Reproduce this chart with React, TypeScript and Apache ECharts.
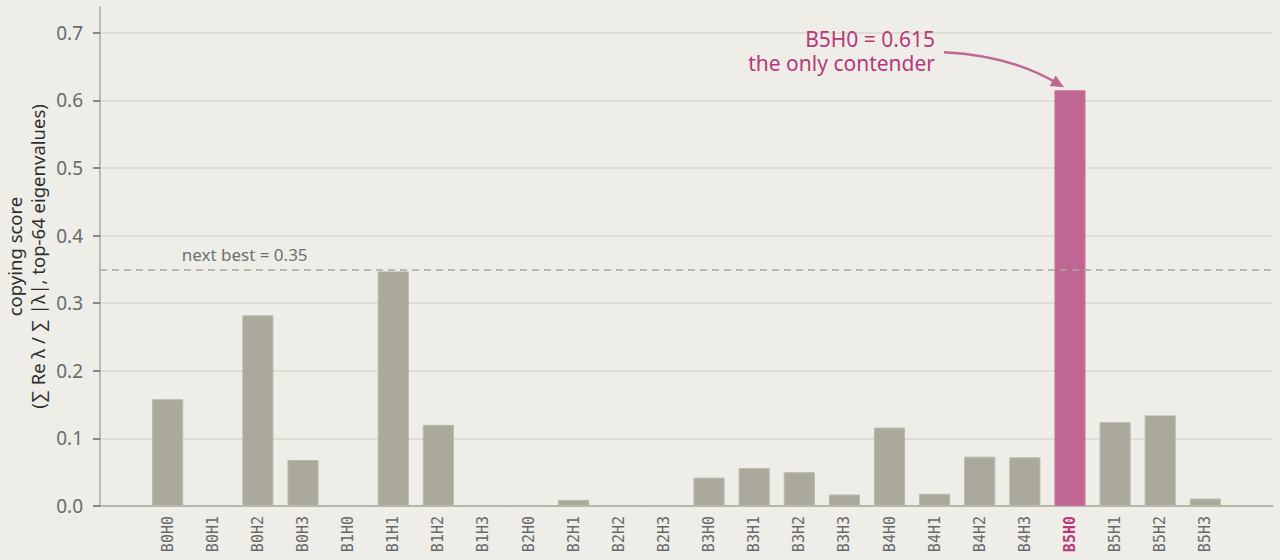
import React, { useEffect, useRef } from 'react';
import * as echarts from 'echarts';

const categories = [
  'B0H0', 'B0H1', 'B0H2', 'B0H3',
  'B1H0', 'B1H1', 'B1H2', 'B1H3',
  'B2H0', 'B2H1', 'B2H2', 'B2H3',
  'B3H0', 'B3H1', 'B3H2', 'B3H3',
  'B4H0', 'B4H1', 'B4H2', 'B4H3',
  'B5H0', 'B5H1', 'B5H2', 'B5H3',
];
const scores = [
  0.158, 0, 0.282, 0.068,
  0, 0.347, 0.120, 0,
  0, 0.009, 0, 0,
  0.042, 0.056, 0.050, 0.017,
  0.116, 0.018, 0.073, 0.072,
  0.615, 0.124, 0.134, 0.011,
];
const yTicks = [0, 0.1, 0.2, 0.3, 0.4, 0.5, 0.6, 0.7];
const winner = 'B5H0';
const yMax = 0.738;

const BG = '#eeede8';
const GREY_BAR = '#aaa99c';
const PINK_BAR = '#c06692';
const PINK_TEXT = '#b8397a';
const SANS = '"Noto Sans", sans-serif';
const MONO = '"DejaVu Sans Mono", monospace';

export default function App() {
  const ref = useRef<HTMLDivElement>(null);
  useEffect(() => {
    document.body.style.margin = '0';
    const chart = echarts.init(ref.current!, null, { renderer: 'svg' });
    const winnerIdx = categories.indexOf(winner);
    const winnerVal = scores[winnerIdx];
    const nextBest = Math.max(...scores.filter((_, i) => i !== winnerIdx));
    const axisData = [' ', ...categories, '  '];
    const barData: any[] = ['-', ...scores.map((v, i) => ({
      value: v,
      itemStyle: i === winnerIdx
        ? { color: PINK_BAR, borderColor: '#c97aa0' }
        : { color: GREY_BAR, borderColor: '#bab9ad' },
    })), '-'];

    chart.setOption({
      animation: false,
      backgroundColor: BG,
      grid: { left: 100, right: 7, top: 7, bottom: 54, containLabel: false, outerBoundsMode: 'none' },
      xAxis: {
        type: 'category',
        data: axisData,
        boundaryGap: true,
        axisLine: { lineStyle: { color: GREY_BAR, width: 1.5 } },
        axisTick: { show: false },
        splitLine: { show: false },
        axisLabel: {
          interval: 0,
          rotate: 90,
          margin: 10,
          fontFamily: MONO,
          fontSize: 15,
          color: '#686868',
          formatter: (v: string) => (v === winner ? `{hi|${v}}` : v),
          rich: {
            hi: { fontFamily: MONO, fontSize: 15, fontWeight: 'bold', color: PINK_TEXT },
          },
        },
      },
      yAxis: {
        type: 'value',
        min: 0,
        max: yMax,
        interval: 0.1,
        name: 'copying score\n(∑ Re λ / ∑ |λ|, top-64 eigenvalues)',
        nameLocation: 'middle',
        nameRotate: 90,
        nameGap: 51,
        nameMoveOverlap: false,
        nameTextStyle: { fontFamily: SANS, fontSize: 18.5, color: '#2e2e2e', lineHeight: 23 },
        axisLine: { show: true, lineStyle: { color: GREY_BAR, width: 1.5 } },
        axisTick: {
          show: true,
          length: 7,
          customValues: yTicks,
          lineStyle: { color: '#666666', width: 1.5 },
        },
        axisLabel: {
          margin: 17,
          customValues: yTicks,
          fontFamily: SANS,
          fontSize: 19,
          color: '#6b6b6b',
          formatter: (v: number) => v.toFixed(1),
        },
        splitLine: {
          show: true,
          lineStyle: { color: '#d9d7ce', width: 1.5 },
        },
      },
      series: [
        {
          type: 'bar',
          data: barData,
          barWidth: '69%',
          itemStyle: { borderWidth: 1 },
          markLine: {
            silent: true,
            symbol: 'none',
            label: { show: false },
            lineStyle: { color: '#a8a8a0', type: [7, 5], width: 1.5 },
            data: [{ yAxis: nextBest }],
          },
        },
      ],
    });

    const [bx, by] = chart.convertToPixel({ xAxisIndex: 0, yAxisIndex: 0 }, [winner, winnerVal]) as number[];
    const [fx, ny] = chart.convertToPixel({ xAxisIndex: 0, yAxisIndex: 0 }, [categories[0], nextBest]) as number[];

    const tip = [bx - 6, by - 3];
    const start = [bx - 126, by - 38];
    const ctrl = [bx - 62, by - 35];
    const dx = tip[0] - ctrl[0];
    const dy = tip[1] - ctrl[1];
    const len = Math.hypot(dx, dy);
    const ux = dx / len, uy = dy / len;
    const headL = 13, headW = 6;
    const baseX = tip[0] - ux * headL, baseY = tip[1] - uy * headL;

    chart.setOption({
      graphic: [
        {
          type: 'text',
          x: fx + 14,
          y: ny - 17,
          style: {
            text: `next best = ${nextBest.toFixed(2)}`,
            fontFamily: SANS,
            fontSize: 17,
            fill: '#707070',
            align: 'left',
            verticalAlign: 'middle',
          },
        },
        {
          type: 'text',
          x: bx - 135,
          y: by - 39,
          style: {
            text: `${winner} = ${winnerVal.toFixed(3)}\nthe only contender`,
            fontFamily: SANS,
            fontSize: 21,
            lineHeight: 24,
            fill: PINK_TEXT,
            align: 'right',
            verticalAlign: 'middle',
          },
        },
        {
          type: 'bezierCurve',
          shape: {
            x1: start[0], y1: start[1],
            x2: baseX + ux * 2, y2: baseY + uy * 2,
            cpx1: ctrl[0], cpy1: ctrl[1],
          },
          style: { stroke: PINK_BAR, lineWidth: 2.5, fill: 'none' },
        },
        {
          type: 'polygon',
          shape: {
            points: [
              [tip[0], tip[1]],
              [baseX - uy * headW, baseY + ux * headW],
              [baseX + uy * headW, baseY - ux * headW],
            ],
          },
          style: { fill: PINK_BAR },
        },
      ],
    });

    return () => chart.dispose();
  }, []);
  return <div ref={ref} style={{ width: 1280, height: 560 }} />;
}
